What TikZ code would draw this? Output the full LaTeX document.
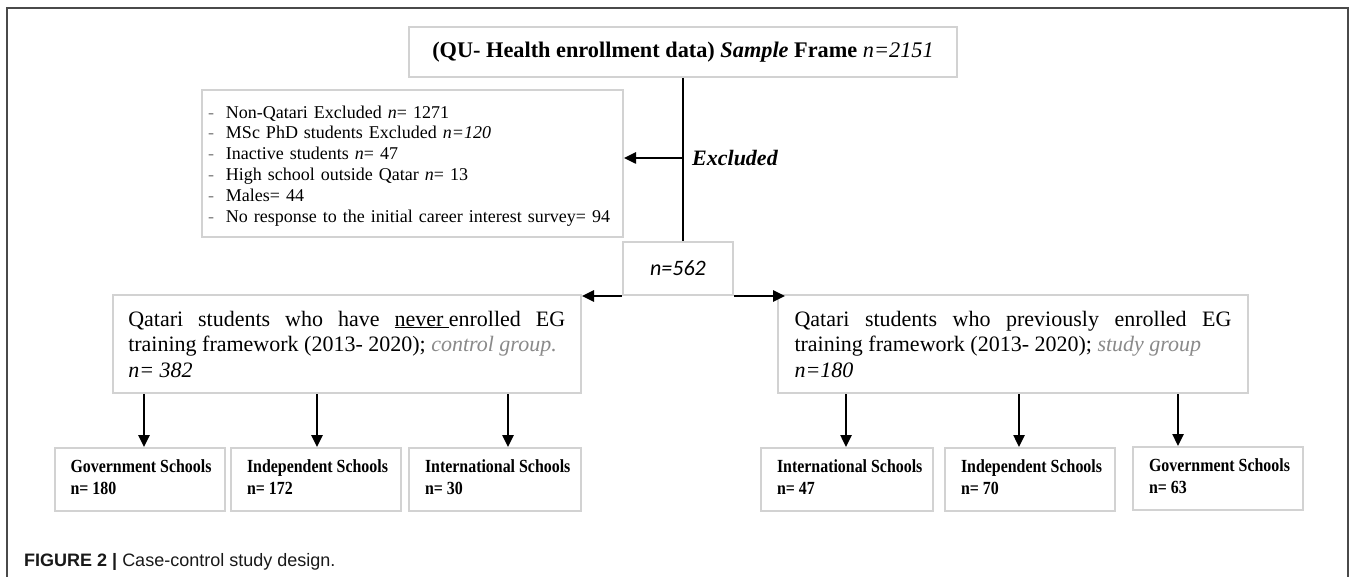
\documentclass[tikz,border=0pt]{standalone}
\usepackage{graphicx}
\usepackage{fontspec}
\setmainfont{Liberation Serif}
\newfontfamily\capfont{Liberation Sans}
\newfontfamily\calfont{Carlito}
\usetikzlibrary{arrows.meta,calc}
\definecolor{boxgray}{HTML}{D2D2D2}
\definecolor{framegray}{HTML}{4A4A4A}
\definecolor{grptxt}{HTML}{8A8A8A}
\begin{document}
\begin{tikzpicture}[x=1pt,y=-1pt,
  box/.style={draw=boxgray, line width=2pt, inner sep=0pt},
  arr/.style={line width=2.5pt, -{Triangle[length=12pt,width=11pt]}},
  conn/.style={line width=2.5pt},
  school/.style={box, minimum height=63pt, font=\fontsize{18.5}{22}\selectfont\bfseries},
]
\useasboundingbox (0,0) rectangle (1357,577);
\fill[white] (0,0) rectangle (1357,577);
\draw[framegray, line width=1.5pt] (7,577) -- (7,8) -- (1348,8) -- (1348,577);

\node[box, minimum width=548pt, minimum height=50pt, font=\fontsize{22.3}{26}\selectfont\bfseries] (top) at (683,52)
  {(QU- Health enrollment data) \textit{Sample} Frame \textnormal{\itshape n=2151}};

\node[box, minimum width=421pt, minimum height=147pt, inner xsep=6pt, text width=409pt, align=left,
  font=\fontsize{18}{20.8}\selectfont] (excl) at (412.5,163.5)
  {\raisebox{-2.5pt}[\height][\depth]{\begin{tabular}{@{}l@{\hspace{12pt}}l@{}}
  {\color{gray}-} & Non-Qatari Excluded \textit{n}= 1271\\
  {\color{gray}-} & MSc PhD students Excluded \textit{n=120}\\
  {\color{gray}-} & Inactive students \textit{n}= 47\\
  {\color{gray}-} & High school outside Qatar \textit{n}= 13\\
  {\color{gray}-} & Males= 44\\
  {\color{gray}-} & No response to the initial career interest survey= 94
  \end{tabular}}};

\node[box, minimum width=110pt, minimum height=53pt, font=\calfont\itshape\fontsize{22}{26}\selectfont] (n562) at (678,268.5) {n=562};

\node[anchor=west, font=\fontsize{22}{26}\selectfont\bfseries\itshape, inner sep=0pt] (exlab) at (692,158) {Excluded};

\node[box, minimum width=468.5pt, minimum height=98pt, text width=437pt, align=justify,
  font=\fontsize{22}{25.5}\selectfont] (lg) at (346.75,344)
  {Qatari students who have \underline{never\ }enrolled EG\linebreak training framework (2013- 2020); \textcolor{grptxt}{\textit{control group.}}\\ \textit{n= 382}};

\node[box, minimum width=470pt, minimum height=98pt, text width=437pt, align=justify,
  font=\fontsize{22}{25.5}\selectfont] (rg) at (1013,344)
  {Qatari students who previously enrolled EG\linebreak training framework (2013- 2020); \textcolor{grptxt}{\textit{study group}}\\ \textit{n=180}};

\node[school, minimum width=170pt] (gl) at (139.5,479.5)
  {\makebox[138pt][l]{\scalebox{0.86}[1]{\begin{tabular}{@{}l@{}}Government Schools\\n= 180\end{tabular}}}};
\node[school, minimum width=170pt] (il) at (316,479.5)
  {\makebox[138pt][l]{\scalebox{0.86}[1]{\begin{tabular}{@{}l@{}}Independent Schools\\n= 172\end{tabular}}}};
\node[school, minimum width=172pt] (tl) at (495,479.5)
  {\makebox[140pt][l]{\scalebox{0.86}[1]{\begin{tabular}{@{}l@{}}International Schools\\n= 30\end{tabular}}}};

\node[school, minimum width=172pt] (tr) at (847,479.5)
  {\makebox[140pt][l]{\scalebox{0.86}[1]{\begin{tabular}{@{}l@{}}International Schools\\n= 47\end{tabular}}}};
\node[school, minimum width=170pt] (ir) at (1030,479.5)
  {\makebox[138pt][l]{\scalebox{0.86}[1]{\begin{tabular}{@{}l@{}}Independent Schools\\n= 70\end{tabular}}}};
\node[school, minimum width=170pt] (gr) at (1218,478.5)
  {\makebox[138pt][l]{\scalebox{0.86}[1]{\begin{tabular}{@{}l@{}}Government Schools\\n= 63\end{tabular}}}};

% connectors
\draw[conn] (top.south) -- (top.south |- n562.north);
\coordinate (exc) at (683,158);
\draw[arr] (exc) -- (exc -| excl.east);
\draw[arr] (n562.south west) -- (n562.south west -| lg.north east);
\draw[arr] (n562.south east) -- ($(n562.south east -| rg.north west)+(8,0)$);

\coordinate (a1) at (144,0);
\coordinate (a2) at (317,0);
\coordinate (a3) at (508,0);
\coordinate (a4) at (846,0);
\coordinate (a5) at (1019,0);
\coordinate (a6) at (1178,0);
\draw[arr] (a1 |- lg.south) -- (a1 |- gl.north);
\draw[arr] (a2 |- lg.south) -- (a2 |- il.north);
\draw[arr] (a3 |- lg.south) -- (a3 |- tl.north);
\draw[arr] (a4 |- rg.south) -- (a4 |- tr.north);
\draw[arr] (a5 |- rg.south) -- (a5 |- ir.north);
\draw[arr] (a6 |- rg.south) -- (a6 |- gr.north);

\node[anchor=west, inner sep=0pt, font=\capfont\fontsize{18}{22}\selectfont, text=black!90] (cap) at (24,562)
  {\textbf{FIGURE 2 |} Case-control study design.};
\end{tikzpicture}
\end{document}
